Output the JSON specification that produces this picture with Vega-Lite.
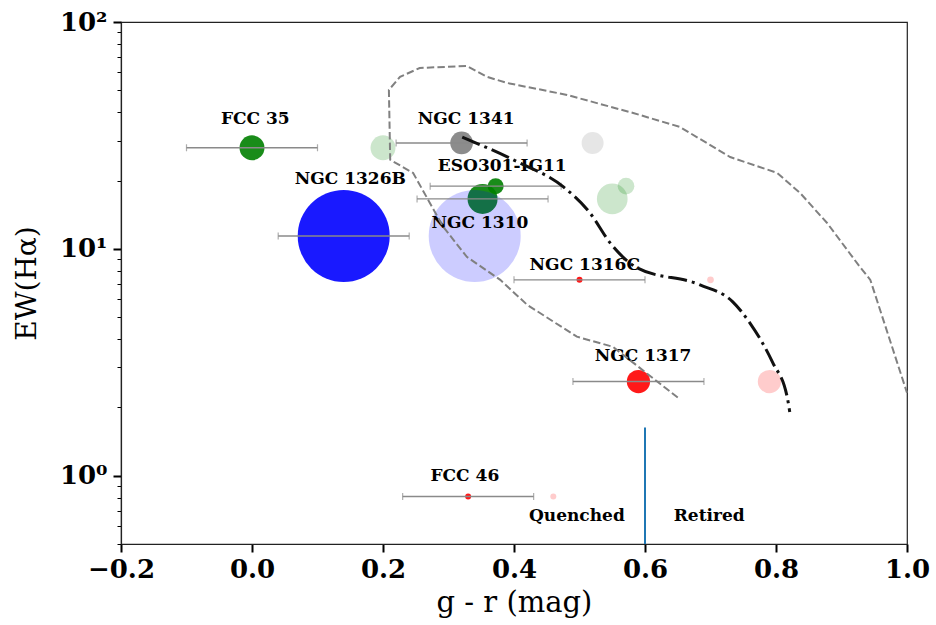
{
  "$schema": "https://vega.github.io/schema/vega-lite/v6.json",
  "width": 786,
  "height": 522,
  "autosize": {"type": "none"},
  "padding": {"left": 121, "top": 22, "right": 29, "bottom": 81},
  "background": "white",
  "config": {"view": {"stroke": "#222222", "strokeWidth": 1.2}, "font": "DejaVu Serif"},
  "datasets": {
    "galaxies": [
      {"name": "FCC 35", "x": 0.0, "y": 27.9, "xerr": 0.1, "w": 625, "type": "green", "state": "observed", "ord": 1},
      {"name": "NGC 1341", "x": 0.32, "y": 29.3, "xerr": 0.1, "w": 515, "type": "gray", "state": "observed", "ord": 1},
      {"name": "NGC 1310", "x": 0.352, "y": 16.6, "xerr": 0.1, "w": 900, "type": "green", "state": "observed", "ord": 1},
      {"name": "ESO301-IG11", "x": 0.372, "y": 18.9, "xerr": 0.1, "w": 256, "type": "green", "state": "observed", "ord": 2},
      {"name": "NGC 1326B", "x": 0.14, "y": 11.4, "xerr": 0.1, "w": 8464, "type": "blue", "state": "observed", "ord": 1},
      {"name": "NGC 1316C", "x": 0.5, "y": 7.3, "xerr": 0.1, "w": 36, "type": "red", "state": "observed", "ord": 1},
      {"name": "NGC 1317", "x": 0.59, "y": 2.6, "xerr": 0.1, "w": 543, "type": "red", "state": "observed", "ord": 1},
      {"name": "FCC 46", "x": 0.33, "y": 0.81, "xerr": 0.1, "w": 36, "type": "red", "state": "observed", "ord": 1},
      {"name": "FCC 35", "x": 0.2, "y": 27.9, "xerr": 0, "w": 625, "type": "green", "state": "shifted", "ord": 3},
      {"name": "NGC 1341", "x": 0.52, "y": 29.3, "xerr": 0, "w": 484, "type": "gray", "state": "shifted", "ord": 3},
      {"name": "NGC 1310", "x": 0.55, "y": 16.6, "xerr": 0, "w": 942, "type": "green", "state": "shifted", "ord": 3},
      {"name": "ESO301-IG11", "x": 0.571, "y": 18.9, "xerr": 0, "w": 279, "type": "green", "state": "shifted", "ord": 4},
      {"name": "NGC 1326B", "x": 0.34, "y": 11.4, "xerr": 0, "w": 8464, "type": "blue", "state": "shifted", "ord": 3},
      {"name": "NGC 1316C", "x": 0.7, "y": 7.3, "xerr": 0, "w": 45, "type": "red", "state": "shifted", "ord": 3},
      {"name": "NGC 1317", "x": 0.79, "y": 2.6, "xerr": 0, "w": 543, "type": "red", "state": "shifted", "ord": 3},
      {"name": "FCC 46", "x": 0.46, "y": 0.81, "xerr": 0, "w": 36, "type": "red", "state": "shifted", "ord": 3}
    ],
    "labels": [
      {"text": "FCC 35", "x": 0.005, "y": 37.4},
      {"text": "NGC 1326B", "x": 0.15, "y": 20.3},
      {"text": "NGC 1341", "x": 0.327, "y": 37.4},
      {"text": "ESO301-IG11", "x": 0.382, "y": 23.2},
      {"text": "NGC 1310", "x": 0.348, "y": 13.0},
      {"text": "NGC 1316C", "x": 0.508, "y": 8.5},
      {"text": "NGC 1317", "x": 0.597, "y": 3.38},
      {"text": "FCC 46", "x": 0.325, "y": 1.0},
      {"text": "Quenched", "x": 0.496, "y": 0.667},
      {"text": "Retired", "x": 0.698, "y": 0.667}
    ],
    "contour": [
      {"i": 1, "x": 0.65, "y": 2.21},
      {"i": 2, "x": 0.551, "y": 3.7},
      {"i": 3, "x": 0.496, "y": 4.1},
      {"i": 4, "x": 0.42, "y": 5.67},
      {"i": 5, "x": 0.379, "y": 7.3},
      {"i": 6, "x": 0.328, "y": 9.22},
      {"i": 7, "x": 0.292, "y": 12.5},
      {"i": 8, "x": 0.246, "y": 21.6},
      {"i": 9, "x": 0.211, "y": 24.7},
      {"i": 10, "x": 0.209, "y": 50.2},
      {"i": 11, "x": 0.226, "y": 57.3},
      {"i": 12, "x": 0.256, "y": 62.7},
      {"i": 13, "x": 0.328, "y": 64.0},
      {"i": 14, "x": 0.359, "y": 57.3},
      {"i": 15, "x": 0.389, "y": 53.9},
      {"i": 16, "x": 0.481, "y": 47.7},
      {"i": 17, "x": 0.582, "y": 39.7},
      {"i": 18, "x": 0.653, "y": 34.5},
      {"i": 19, "x": 0.73, "y": 25.4},
      {"i": 20, "x": 0.802, "y": 21.6},
      {"i": 21, "x": 0.837, "y": 17.6},
      {"i": 22, "x": 0.878, "y": 13.0},
      {"i": 23, "x": 0.928, "y": 8.33},
      {"i": 24, "x": 0.944, "y": 7.3},
      {"i": 25, "x": 1.0, "y": 2.32}
    ],
    "track": [
      {"i": 1, "x": 0.321, "y": 31.1},
      {"i": 2, "x": 0.405, "y": 24.2},
      {"i": 3, "x": 0.475, "y": 18.8},
      {"i": 4, "x": 0.516, "y": 14.4},
      {"i": 5, "x": 0.547, "y": 10.6},
      {"i": 6, "x": 0.588, "y": 8.25},
      {"i": 7, "x": 0.684, "y": 6.94},
      {"i": 8, "x": 0.734, "y": 5.84},
      {"i": 9, "x": 0.76, "y": 4.72},
      {"i": 10, "x": 0.795, "y": 3.15},
      {"i": 11, "x": 0.817, "y": 2.23},
      {"i": 12, "x": 0.821, "y": 1.91}
    ],
    "divider": [{"x": 0.6, "y": 0.5, "y2": 1.63}]
  },
  "layer": [
    {
      "data": {"name": "galaxies"},
      "mark": {"type": "point", "filled": true, "strokeWidth": 0},
      "encoding": {
        "x": {
          "field": "x", "type": "quantitative", "title": "g - r (mag)",
          "scale": {"domain": [-0.2, 1.0], "nice": false, "zero": false},
          "axis": {
            "title": "g - r (mag)", "values": [-0.2, 0, 0.2, 0.4, 0.6, 0.8, 1.0], "format": ".1f",
            "grid": false, "labelFlush": false,
            "labelFont": "DejaVu Serif", "labelFontWeight": "bold", "labelFontSize": 26, "labelColor": "black",
            "labelPadding": 4,
            "tickSize": 8, "tickWidth": 2, "tickColor": "black",
            "domainColor": "#222222", "domainWidth": 1.2,
            "titleFont": "DejaVu Serif", "titleFontWeight": "normal", "titleFontSize": 29, "titleColor": "black",
            "titlePadding": 6
          }
        },
        "y": {
          "field": "y", "type": "quantitative", "title": "EW(Hα)",
          "scale": {"type": "log", "domain": [0.5, 100], "nice": false},
          "axis": {
            "title": "EW(Hα)",
            "values": [0.5, 0.6, 0.7, 0.8, 0.9, 1, 2, 3, 4, 5, 6, 7, 8, 9, 10, 20, 30, 40, 50, 60, 70, 80, 90, 100],
            "labelExpr": "datum.value == 1 ? '10⁰' : datum.value == 10 ? '10¹' : datum.value == 100 ? '10²' : ''",
            "grid": false, "labelFlush": false,
            "labelFont": "DejaVu Serif", "labelFontWeight": "bold", "labelFontSize": 26, "labelColor": "black",
            "labelPadding": 6,
            "tickSize": {"condition": {"test": "datum.value == 1 || datum.value == 10 || datum.value == 100", "value": 8}, "value": 4},
            "tickWidth": {"condition": {"test": "datum.value == 1 || datum.value == 10 || datum.value == 100", "value": 2}, "value": 1},
            "tickColor": "black",
            "domainColor": "#222222", "domainWidth": 1.2,
            "titleFont": "DejaVu Serif", "titleFontWeight": "normal", "titleFontSize": 28, "titleColor": "black",
            "titlePadding": 18
          }
        },
        "size": {"field": "w", "type": "quantitative", "scale": {"type": "linear", "domain": [0, 9000], "range": [0, 9000]}, "legend": null},
        "color": {"field": "type", "type": "nominal", "scale": {"domain": ["green", "blue", "gray", "red"], "range": ["#008000", "#0000ff", "#808080", "#ff0000"]}, "legend": null},
        "opacity": {"field": "state", "type": "nominal", "scale": {"domain": ["observed", "shifted"], "range": [0.9, 0.2]}, "legend": null},
        "order": {"field": "ord", "type": "quantitative"}
      }
    },
    {
      "data": {"name": "galaxies"},
      "transform": [{"filter": "datum.state == 'observed'"}],
      "mark": {"type": "errorbar", "ticks": {"size": 7, "thickness": 1.2, "color": "#8a8a8a"}, "rule": {"color": "#8a8a8a", "strokeWidth": 1.4}},
      "encoding": {
        "x": {"field": "x", "type": "quantitative", "title": "g - r (mag)"},
        "xError": {"field": "xerr"},
        "y": {"field": "y", "type": "quantitative", "title": "EW(Hα)"}
      }
    },
    {
      "data": {"name": "labels"},
      "mark": {"type": "text", "font": "DejaVu Serif", "fontWeight": "bold", "fontSize": 17, "color": "black", "align": "center", "baseline": "middle"},
      "encoding": {
        "x": {"field": "x", "type": "quantitative", "title": "g - r (mag)"},
        "y": {"field": "y", "type": "quantitative", "title": "EW(Hα)"},
        "text": {"field": "text"}
      }
    },
    {
      "data": {"name": "contour"},
      "mark": {"type": "line", "color": "#808080", "strokeWidth": 2, "strokeDash": [7.4, 3.2]},
      "encoding": {
        "x": {"field": "x", "type": "quantitative", "title": "g - r (mag)"},
        "y": {"field": "y", "type": "quantitative", "title": "EW(Hα)"},
        "order": {"field": "i", "type": "quantitative"}
      }
    },
    {
      "data": {"name": "track"},
      "mark": {"type": "line", "color": "#111111", "strokeWidth": 3, "strokeDash": [19, 5, 3, 5], "interpolate": "monotone"},
      "encoding": {
        "x": {"field": "x", "type": "quantitative", "title": "g - r (mag)"},
        "y": {"field": "y", "type": "quantitative", "title": "EW(Hα)"},
        "order": {"field": "i", "type": "quantitative"}
      }
    },
    {
      "data": {"name": "divider"},
      "mark": {"type": "rule", "color": "#1f77b4", "strokeWidth": 2},
      "encoding": {
        "x": {"field": "x", "type": "quantitative", "title": "g - r (mag)"},
        "y": {"field": "y", "type": "quantitative", "title": "EW(Hα)"},
        "y2": {"field": "y2"}
      }
    }
  ]
}
